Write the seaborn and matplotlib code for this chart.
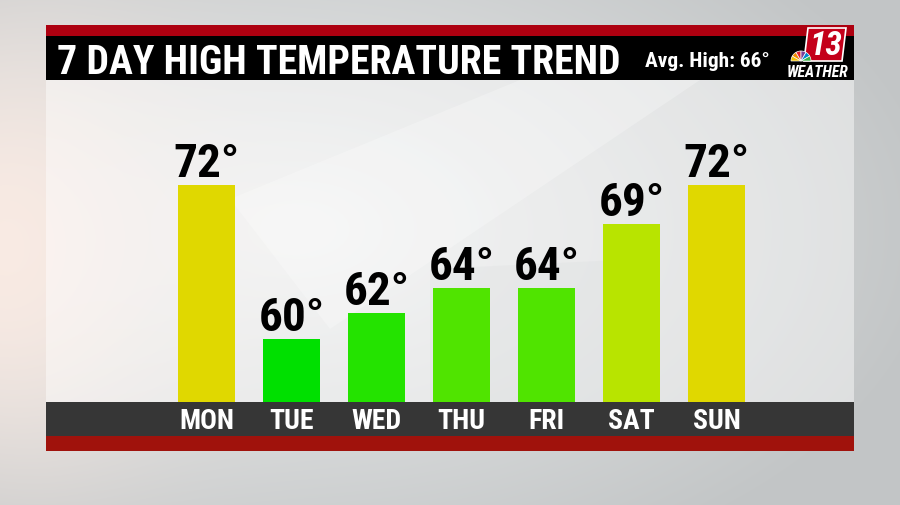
import numpy as np
import pandas as pd
import matplotlib
matplotlib.use("Agg")
import matplotlib.pyplot as plt
import seaborn as sns
from matplotlib import font_manager as fm
from matplotlib.patches import Rectangle, Wedge, Polygon

# ---------------- data ----------------
days = ["MON", "TUE", "WED", "THU", "FRI", "SAT", "SUN"]
highs = [72, 60, 62, 64, 64, 69, 72]
bar_colors = ["#e0d800", "#00e000", "#24e300", "#50e400", "#50e400", "#b8e400", "#e0d800"]
title = "7 DAY HIGH TEMPERATURE TREND"
avg_label = "Avg. High: 66°"
logo_number = "13"
logo_word = "WEATHER"

df = pd.DataFrame({"day": days, "high": highs})

sns.set_theme(style="white")
available = {f.name for f in fm.fontManager.ttflist}
cond = "DejaVu Sans"
for name in ["Roboto Condensed", "Liberation Sans Narrow", "DejaVu Sans Condensed", "Open Sans Condensed"]:
    if name in available:
        cond = name
        break
plt.rcParams["font.family"] = [cond, "DejaVu Sans"]

W, H = 900, 506
fig = plt.figure(figsize=(9, 5.06), dpi=100)

# ---------------- background ----------------
bg = fig.add_axes([0, 0, 1, 1])
yy, xx = np.mgrid[0:H, 0:W]
base = np.array([194, 197, 198]) / 255
arr = np.ones((H, W, 3)) * base
light = np.clip(1 - np.hypot((xx - 300) / 650, (yy - 230) / 380), 0, 1)
arr = arr + (np.array([236, 237, 237]) / 255 - arr) * light[..., None]
glow = np.exp(-((xx / 170.0) ** 2 + ((yy - 250) / 230.0) ** 2))
arr = arr + (np.array([252, 236, 228]) / 255 - arr) * glow[..., None] * 0.9
bg.imshow(arr, extent=[0, W, H, 0], aspect="auto", interpolation="bilinear")
bg.set_xlim(0, W)
bg.set_ylim(H, 0)
bg.axis("off")

# panel interior (lighter)
bg.add_patch(Rectangle((46, 81), 808, 322, facecolor="white", alpha=0.45, lw=0))
# faint facets
bg.add_patch(Polygon([[230, 200], [520, 81], [700, 81], [330, 330]], closed=True,
                     facecolor="white", alpha=0.25, lw=0))
bg.add_patch(Polygon([[430, 270], [640, 260], [640, 403], [430, 403]], closed=True,
                     facecolor="#d9dcdd", alpha=0.25, lw=0))
# bands
bg.add_patch(Rectangle((46, 26), 808, 11, facecolor="#ad0010", lw=0))
bg.add_patch(Rectangle((46, 37), 808, 44, facecolor="black", lw=0))
bg.add_patch(Rectangle((46, 403), 808, 34, facecolor="#363636", lw=0))
bg.add_patch(Rectangle((46, 437), 808, 15, facecolor="#a0120c", lw=0))

# ---------------- bars ----------------
ax = fig.add_axes([46 / W, 1 - 403 / H, 808 / W, 322 / H])
ax.patch.set_alpha(0)
sns.barplot(data=df, x="day", y="high", hue="day", palette=bar_colors,
            width=0.67, saturation=1, legend=False, ax=ax, linewidth=0)
ax.set_xlim(-1.888, 7.618)
ax.set_ylim(55.1, 80.2)
for s in ax.spines.values():
    s.set_visible(False)
ax.set_xlabel("")
ax.set_ylabel("")
ax.set_yticks([])
ax.tick_params(axis="x", length=0, pad=3.5, labelcolor="white", labelsize=20)
for lab in ax.get_xticklabels():
    lab.set_fontweight("bold")

for cont, v in zip(ax.containers, highs):
    ax.bar_label(cont, labels=[f"{v}°"], padding=0, fontsize=34,
                 fontweight="bold", color="black")

# ---------------- header texts ----------------
t_title = fig.text(57 / W, 1 - 74 / H, title, ha="left", va="baseline",
                   color="white", fontsize=30, fontweight="bold")
t_avg = fig.text(645 / W, 1 - 67 / H, avg_label, ha="left", va="baseline",
                 color="white", fontsize=16, fontweight="bold")

# logo
bg.add_patch(Polygon([[808, 29], [846, 29], [842, 62], [804, 62]], closed=True,
                     facecolor="#c4001a", edgecolor="white", lw=1.2))
t13 = bg.text(826, 46, logo_number, ha="center", va="center", color="white",
              fontsize=24, fontweight="bold", style="italic")
pea = ["#f5c400", "#f08a00", "#e0212b", "#7b3f98", "#0089cf", "#3cb54a"]
for i, c in enumerate(pea):
    bg.add_patch(Wedge((801, 62), 10, 180 + i * 30, 180 + (i + 1) * 30,
                       facecolor=c, edgecolor="white", lw=0.5, zorder=5))
t_w = bg.text(818, 77, logo_word, ha="center", va="baseline", color="white",
              fontsize=11, fontweight="bold", style="italic")

# fit widths
fig.canvas.draw()
r = fig.canvas.get_renderer()
def fit(t, target):
    w = t.get_window_extent(r).width
    t.set_fontsize(t.get_fontsize() * target / w)
fit(t_title, 563)
fit(t_avg, 125)
fit(t_w, 62)

fig.savefig("out.png", dpi=100)
